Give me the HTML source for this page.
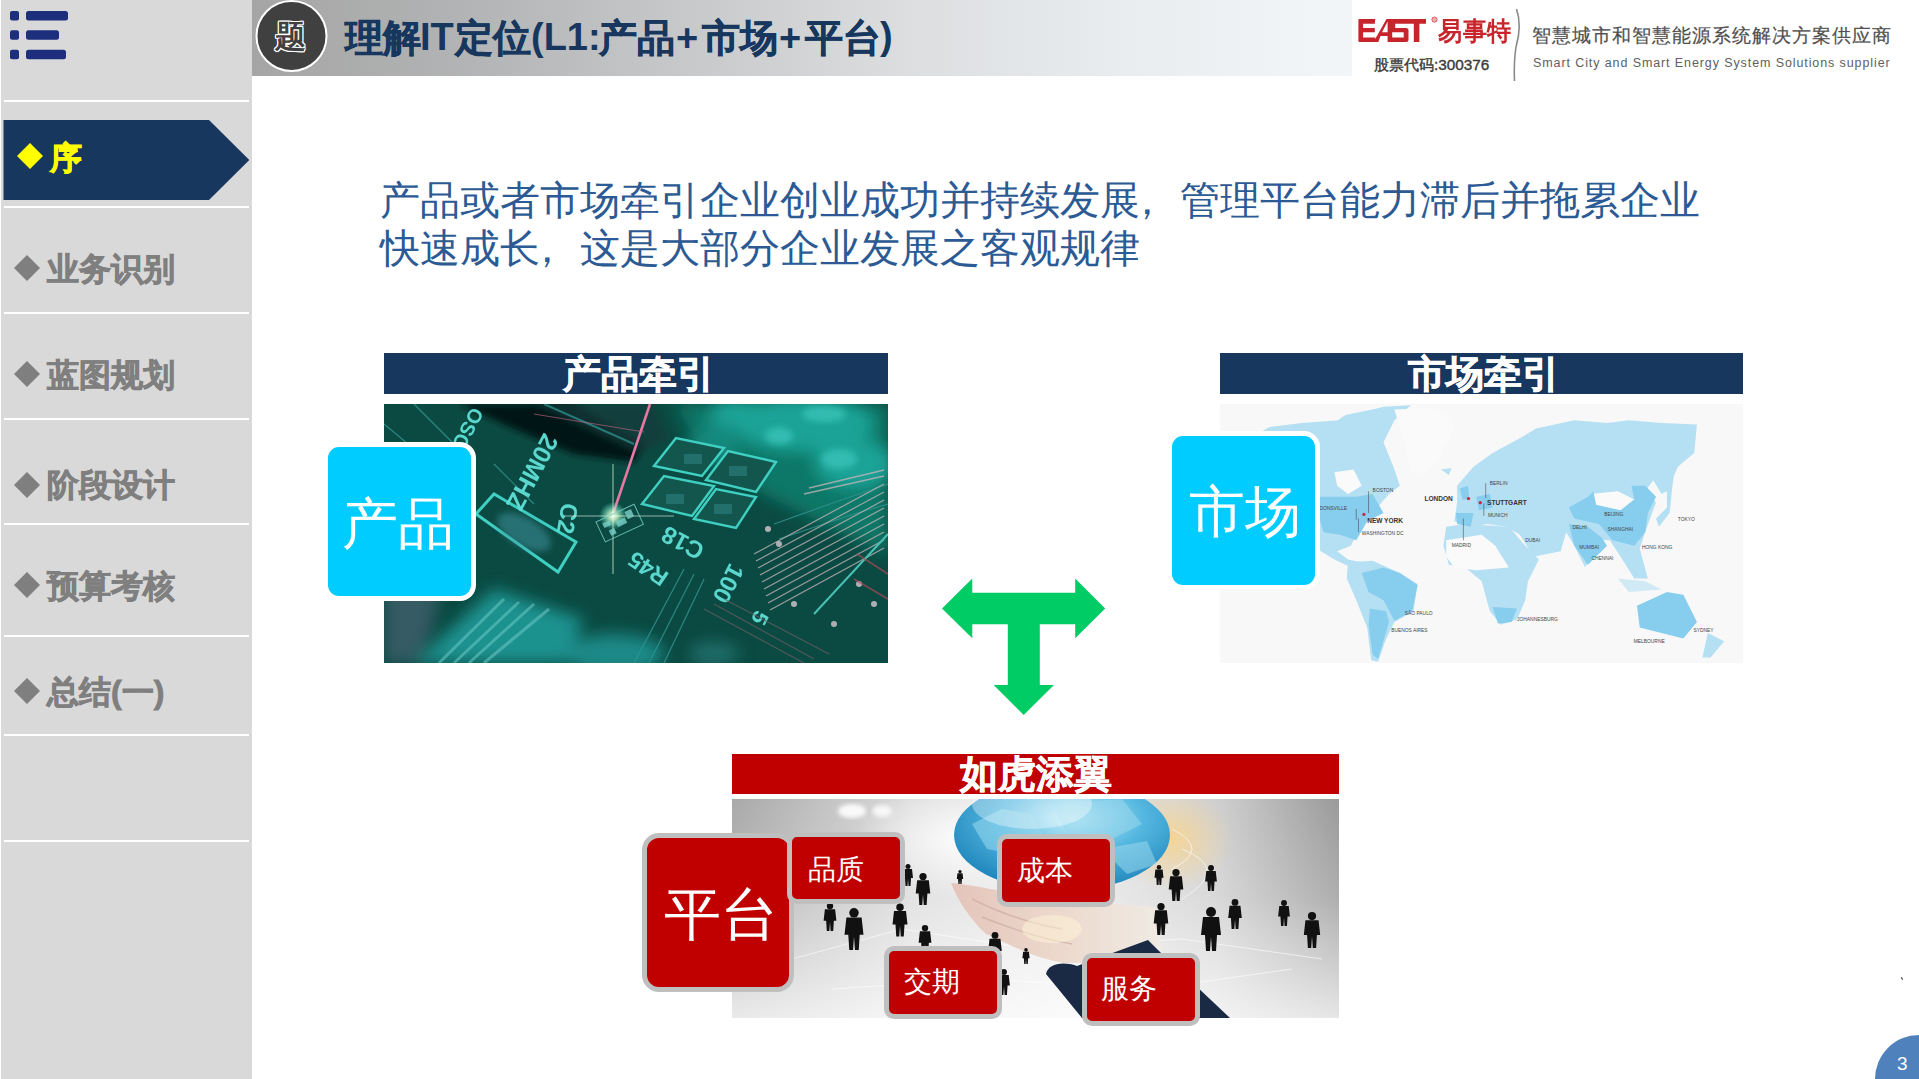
<!DOCTYPE html>
<html><head><meta charset="utf-8">
<style>
*{margin:0;padding:0;box-sizing:border-box}
html,body{width:1919px;height:1079px;overflow:hidden;background:#fff;font-family:"Liberation Sans",sans-serif}
.abs{position:absolute}
#side{left:1px;top:0;width:251px;height:1079px;background:#d9d9d9}
.sep{position:absolute;left:4px;width:245px;height:2px;background:#fff}
.item{position:absolute;left:47px;font-size:32px;font-weight:bold;color:#7f7f7f;white-space:nowrap;line-height:1;-webkit-text-stroke:0.8px #7f7f7f}
.dm{position:absolute;width:26px;height:26px;background:#7f7f7f;clip-path:polygon(50% 0,100% 50%,50% 100%,0 50%)}
.dia{display:inline-block;width:19px;height:19px;background:#7f7f7f;transform:rotate(45deg);vertical-align:middle;margin:0 14px 0 5px;position:relative;top:-3px}
#hdr{left:252px;top:0;width:1100px;height:76px;background:linear-gradient(90deg,#a5a5a5 0%,#b3b4b5 20%,#c8c9cb 40%,#dcdee0 60%,#eaedf0 80%,#f3f6f9 100%)}
.tt,.tl{position:absolute;font-size:38px;font-weight:bold;color:#17375e;white-space:nowrap;line-height:1.2}
.tt{-webkit-text-stroke:0.6px #17375e}
.bar{position:absolute;color:#fff;font-weight:bold;font-size:38px;-webkit-text-stroke:0.6px #fff;text-align:center;line-height:43px;white-space:nowrap}
.cy{position:absolute;background:#00ccff;border:5px solid #fff;border-radius:16px}
.ct{position:absolute;color:#fff;font-size:56px;line-height:1;white-space:nowrap}
.rd{position:absolute;background:#c00000;border:5px solid #bfbfbf;border-radius:10px}
.rt{position:absolute;color:#fff;font-size:28px;line-height:1;white-space:nowrap}
</style></head><body>

<!-- sidebar -->
<div id="side" class="abs"></div>
<svg class="abs" style="left:0;top:0" width="80" height="70">
  <rect x="10" y="11" width="9" height="9.5" rx="2" fill="#1d2e7c"/>
  <rect x="26" y="11" width="42" height="9.5" rx="2.5" fill="#1d2e7c"/>
  <rect x="10" y="30.2" width="9" height="9.5" rx="2" fill="#1d2e7c"/>
  <rect x="26" y="30.2" width="33" height="9.5" rx="2.5" fill="#1d2e7c"/>
  <rect x="10" y="49.8" width="9" height="9.5" rx="2" fill="#1d2e7c"/>
  <rect x="26" y="49.8" width="40" height="9.5" rx="2.5" fill="#1d2e7c"/>
</svg>
<div class="sep" style="top:100px"></div>
<svg class="abs" style="left:0;top:0" width="252" height="220">
  <polygon points="3.5,120 209,120 249.3,160 209,200 3.5,200" fill="#17375e"/>
</svg>
<div class="dm" style="left:17px;top:143px;background:#ffff00"></div>
<div class="item" style="left:50px;top:142px;color:#ffff00;-webkit-text-stroke:0.8px #ffff00">序</div>
<div class="sep" style="top:206px"></div>
<div class="dm" style="left:14px;top:255px"></div>
<div class="item" style="top:253px">业务识别</div>
<div class="sep" style="top:312px"></div>
<div class="dm" style="left:14px;top:361px"></div>
<div class="item" style="top:359px">蓝图规划</div>
<div class="sep" style="top:418px"></div>
<div class="dm" style="left:14px;top:472px"></div>
<div class="item" style="top:469px">阶段设计</div>
<div class="sep" style="top:523px"></div>
<div class="dm" style="left:14px;top:572px"></div>
<div class="item" style="top:570px">预算考核</div>
<div class="sep" style="top:635px"></div>
<div class="dm" style="left:14px;top:678px"></div>
<div class="item" style="top:676px">总结(一)</div>
<div class="sep" style="top:734px"></div>
<div class="sep" style="top:840px"></div>

<!-- header -->
<div id="hdr" class="abs"></div>
<svg class="abs" style="left:252px;top:0" width="80" height="76">
  <circle cx="39.5" cy="36" r="35" fill="#404040" stroke="#fff" stroke-width="2"/>
</svg>
<div class="abs" style="left:275px;top:19.5px;font-size:31px;font-weight:bold;color:#404040;line-height:1.1;text-shadow:1px 0 0 #fff,-1px 0 0 #fff,0 1px 0 #fff,0 -1px 0 #fff,1px 1px 0 #fff,-1px -1px 0 #fff,1px -1px 0 #fff,-1px 1px 0 #fff">题</div>
<div class="tt" style="left:345px;top:15.5px">理解</div>
<div class="tl" style="left:420px;top:15px">IT</div>
<div class="tt" style="left:455px;top:15.5px">定位</div>
<div class="tl" style="left:531px;top:15px">(L1:</div>
<div class="tt" style="left:599px;top:15.5px">产品</div>
<div class="tl" style="left:676px;top:16px">+</div>
<div class="tt" style="left:702px;top:15.5px">市场</div>
<div class="tl" style="left:779px;top:16px">+</div>
<div class="tt" style="left:805px;top:15.5px">平台</div>
<div class="tl" style="left:880px;top:14px">)</div>

<!-- logo -->
<div class="abs" style="left:1352px;top:0;width:567px;height:90px;background:#fff"></div>
<svg class="abs" style="left:1350px;top:10px" width="90" height="40" viewBox="1350 10 90 40">
<g fill="#c8242b">
<path d="M1358.4,20 Q1358.4,19 1359.4,19 L1375.3,19 L1374.8,23.8 L1363.1,23.8 L1363.1,28 L1374.8,28 L1374.8,32.2 L1363.1,32.2 L1363.1,37.4 L1375.3,37.4 L1375.3,42 L1359.4,42 Q1358.4,42 1358.4,41 Z"/>
<path d="M1373.5,42 L1378.3,42 L1380.5,36 L1387.6,36 L1387.6,42 L1392.2,42 L1392.2,19 L1386.5,19 Z M1382,32.2 L1387.6,21.5 L1387.6,32.2 Z"/>
<path d="M1392.5,19 L1426,19 L1426,23.8 L1419.4,23.8 L1419.4,42 L1413.8,42 L1413.8,23.8 L1395.2,23.8 L1395.2,28 L1406,28 Q1408.5,28 1408.5,30.5 L1408.5,39.5 Q1408.5,42 1406,42 L1389.5,42 L1390,37.4 L1403.7,37.4 L1403.7,32.2 L1392.5,32.2 Q1390.2,32.2 1390.2,30 L1390.2,21.3 Q1390.2,19 1392.5,19 Z"/>
</g>
<circle cx="1434.5" cy="19.6" r="2.6" fill="#f0b0b0" stroke="#d04048" stroke-width="0.8"/>
</svg>
<div class="abs" style="left:1438px;top:18px;font-size:24px;font-weight:bold;color:#c8242b;line-height:1;font-family:'Liberation Serif',serif;letter-spacing:0.5px;white-space:nowrap;transform:scaleY(1.08);transform-origin:top">易事特</div>
<div class="abs" style="left:1374px;top:57px;font-size:15.3px;color:#3a3a3a;-webkit-text-stroke:0.4px #3a3a3a;line-height:1;white-space:nowrap">股票代码:300376</div>
<svg class="abs" style="left:1505px;top:5px" width="25" height="80"><path d="M11.5,4 C15,14 15,28 11,42 C9,55 9,65 9.5,76" fill="none" stroke="#8a8a8a" stroke-width="1.6"/></svg>
<div class="abs" style="left:1532px;top:27px;font-size:18.5px;color:#505050;-webkit-text-stroke:0.2px #505050;line-height:1;white-space:nowrap;letter-spacing:1.0px">智慧城市和智慧能源系统解决方案供应商</div>
<div class="abs" style="left:1533px;top:57px;font-size:12.5px;color:#606060;line-height:1;white-space:nowrap;letter-spacing:0.9px">Smart City and Smart Energy System Solutions supplier</div>

<!-- main text -->
<div class="abs" style="left:380px;top:175.5px;font-size:40px;color:#2c5a94;line-height:48px;white-space:nowrap">产品或者市场牵引企业创业成功并持续发展<span style="position:relative;left:-13px">，</span>管理平台能力滞后并拖累企业<br>快速成长<span style="position:relative;left:-13px">，</span>这是大部分企业发展之客观规律</div>

<!-- product -->
<div class="bar" style="left:384px;top:353px;width:504px;height:41px;background:#17375e;padding-left:5px">产品牵引</div>
<svg class="abs" style="left:384px;top:404px" width="504" height="259" viewBox="0 0 504 259">
<defs>
<filter id="b3" x="-20%" y="-20%" width="140%" height="140%"><feGaussianBlur stdDeviation="3"/></filter>
<filter id="b8" x="-50%" y="-50%" width="200%" height="200%"><feGaussianBlur stdDeviation="8"/></filter>
<filter id="b1"><feGaussianBlur stdDeviation="0.7"/></filter>
<radialGradient id="glow"><stop offset="0" stop-color="#fff"/><stop offset="0.3" stop-color="#d8ffd0" stop-opacity="0.8"/><stop offset="1" stop-color="#5fd" stop-opacity="0"/></radialGradient>
</defs>
<rect width="504" height="259" fill="#0b4a42"/>
<g filter="url(#b8)"><polygon points="290,0 504,0 504,150 440,120 380,90 320,50" fill="#0a7868"/></g>
<!-- left darker -->
<polygon points="0,150 60,170 40,259 0,259" fill="#3a5d68" opacity="0.9" filter="url(#b8)"/>
<!-- top-right light blobs -->
<g filter="url(#b8)" fill="#1fa89c" opacity="0.9">
<ellipse cx="420" cy="20" rx="70" ry="28"/>
<ellipse cx="470" cy="60" rx="40" ry="25"/>
<ellipse cx="355" cy="10" rx="30" ry="15"/>
<ellipse cx="330" cy="40" rx="25" ry="18" fill="#168a80"/>
</g>
<g filter="url(#b3)" fill="#3cc8bc" opacity="0.7">
<ellipse cx="440" cy="10" rx="22" ry="8"/><ellipse cx="395" cy="32" rx="14" ry="9"/><ellipse cx="455" cy="55" rx="18" ry="10"/><ellipse cx="360" cy="65" rx="10" ry="7"/>
</g>
<!-- dark band top -->
<polygon points="75,0 190,0 260,40 250,58 190,50 130,25" fill="#061514" filter="url(#b3)"/>
<polygon points="150,0 270,0 285,35 255,50" fill="#133a3a" opacity="0.7" filter="url(#b3)"/>
<line x1="160" y1="0" x2="250" y2="40" stroke="#2b8c88" stroke-width="2" opacity="0.8"/>
<!-- traces -->
<g stroke="#2f8f8a" stroke-width="1.2" fill="none" opacity="0.9">
<path d="M0,20 L60,70 L92,110"/><path d="M30,0 L80,50"/><path d="M110,60 L150,100"/>
<path d="M300,165 L250,259"/><path d="M310,170 L265,259"/><path d="M320,175 L280,259"/>
<path d="M390,120 L460,95 L504,80"/><path d="M395,135 L470,110 L504,100"/>
</g>
<!-- pads grid -->
<g stroke="#3fd0c2" stroke-width="2.4" fill="#12564e">
<path d="M258,100 L280,72 L330,82 L308,112 Z"/>
<path d="M310,115 L332,85 L372,93 L352,124 Z"/>
<path d="M270,62 L292,34 L340,44 L318,72 Z"/>
<path d="M322,76 L344,47 L392,58 L372,88 Z"/>
</g>
<g fill="#2a7a78" opacity="0.7"><rect x="282" y="90" width="18" height="10"/><rect x="330" y="100" width="18" height="10"/><rect x="300" y="50" width="18" height="10"/><rect x="345" y="62" width="18" height="10"/></g>
<!-- left pad component -->
<path d="M92,110 L110,90 L192,138 L174,168 Z" fill="none" stroke="#3fd0c2" stroke-width="3"/>
<ellipse cx="140" cy="128" rx="30" ry="14" fill="#3a8a95" opacity="0.6" filter="url(#b3)" transform="rotate(30 140 128)"/>
<!-- silkscreen text -->
<g fill="#5fe0d6" font-family="Liberation Sans" font-weight="bold" font-size="22" opacity="0.95">
<text transform="translate(160,28) rotate(118)" font-size="25">20MHZ</text>
<text transform="translate(88,2) rotate(118)" font-size="20">OSC2</text>
<text transform="translate(178,98) rotate(100)" font-size="24">C2</text>
<text transform="translate(322,142) rotate(208)" font-size="24">C18</text>
<text transform="translate(286,170) rotate(214)" font-size="23">R45</text>
<text transform="translate(346,158) rotate(117)" font-size="24">100</text>
<text transform="translate(372,205) rotate(117)" font-size="22">5</text>
</g>
<!-- comb lines -->
<g stroke="#c9b6bb" stroke-width="1.4" opacity="0.75">
<line x1="380" y1="185" x2="500" y2="120"/><line x1="378" y1="178" x2="500" y2="112"/><line x1="376" y1="171" x2="500" y2="104"/>
<line x1="374" y1="164" x2="500" y2="96"/><line x1="372" y1="157" x2="500" y2="88"/><line x1="370" y1="150" x2="500" y2="80"/>
<line x1="382" y1="192" x2="500" y2="128"/><line x1="384" y1="199" x2="500" y2="136"/><line x1="386" y1="206" x2="500" y2="144"/>
<line x1="420" y1="90" x2="500" y2="72"/><line x1="425" y1="84" x2="500" y2="66"/>
</g>
<g fill="#d8c8d0" opacity="0.8"><circle cx="395" cy="140" r="3"/><circle cx="384" cy="125" r="3"/><circle cx="410" cy="200" r="3"/><circle cx="450" cy="220" r="3"/><circle cx="490" cy="200" r="3"/><circle cx="475" cy="180" r="3"/></g>
<path d="M430,210 L504,130" stroke="#49c0b5" stroke-width="2"/>
<!-- bottom-left blurry -->
<g filter="url(#b8)">
<polygon points="30,259 110,185 200,215 180,259" fill="#1e9a98" opacity="0.9"/>
<ellipse cx="230" cy="250" rx="50" ry="20" fill="#1e9a98" opacity="0.8"/>
<ellipse cx="330" cy="250" rx="25" ry="12" fill="#277c7b" opacity="0.7"/>
</g>
<g stroke="#6cc8c4" stroke-width="3" opacity="0.55" filter="url(#b1)">
<line x1="55" y1="259" x2="120" y2="195"/><line x1="70" y1="259" x2="135" y2="198"/><line x1="85" y1="259" x2="150" y2="200"/><line x1="100" y1="259" x2="165" y2="205"/>
</g>
<!-- bottom-right dark lines -->
<g stroke="#6b5e64" stroke-width="1.4" opacity="0.7">
<line x1="320" y1="205" x2="420" y2="259"/><line x1="330" y1="200" x2="430" y2="255"/><line x1="340" y1="195" x2="445" y2="250"/>
</g>
<path d="M473,150 L504,170 M470,175 L504,195" stroke="#b04a5a" stroke-width="1.5" opacity="0.7"/>
<!-- pink laser -->
<line x1="266" y1="0" x2="229" y2="110" stroke="#e77aa3" stroke-width="2.6"/>
<line x1="150" y1="10" x2="260" y2="28" stroke="#c86a8a" stroke-width="1.2" opacity="0.6"/>
<!-- glare -->
<circle cx="229" cy="112" r="14" fill="url(#glow)"/>
<line x1="229" y1="60" x2="229" y2="170" stroke="#e8ffe8" stroke-width="1" opacity="0.7"/>
<line x1="180" y1="112" x2="290" y2="112" stroke="#e8ffe8" stroke-width="1" opacity="0.6"/>
<!-- qr code -->
<g transform="translate(212,118) rotate(-25)" fill="#7bd0c8" opacity="0.8"><rect x="0" y="0" width="42" height="22" fill="none" stroke="#7bd0c8" stroke-width="1"/><rect x="5" y="4" width="8" height="5"/><rect x="18" y="8" width="10" height="6"/><rect x="30" y="3" width="7" height="8"/><rect x="8" y="13" width="6" height="6"/></g>
</svg>
<div class="cy" style="left:322.8px;top:441.5px;width:153px;height:159.5px"></div>
<div class="ct" style="left:342px;top:495.5px">产品</div>

<!-- market -->
<div class="bar" style="left:1220px;top:353px;width:523px;height:41px;background:#17375e;padding-left:5px">市场牵引</div>
<svg class="abs" style="left:1220px;top:404px" width="523" height="259" viewBox="0 0 1919 950" preserveAspectRatio="none">
<rect width="1919" height="950" fill="#f8f8f8"/>
<g fill="#b5e0f4">
<!-- North America -->
<path d="M180,85 L300,70 L440,60 L520,30 L600,10 L700,5 L640,60 L600,140 L640,240 L660,300 L620,330 L560,400 L520,440 L480,520 L430,540 L470,570 L520,580 L480,600 L420,570 L370,540 L340,520 L300,470 L260,400 L200,300 L150,200 L120,120 Z"/>
<!-- arctic islands -->
<path d="M390,90 L460,40 L560,20 L600,60 L520,120 L440,130 Z"/>
<!-- South America -->
<path d="M470,580 L560,575 L660,620 L725,660 L710,760 L640,800 L610,860 L580,945 L555,940 L540,820 L500,720 L465,640 Z"/>
<!-- Europe + Asia -->
<path d="M870,300 L930,230 L1000,180 L1110,120 L1160,90 L1300,60 L1420,70 L1500,60 L1620,70 L1750,75 L1740,180 L1680,230 L1640,320 L1620,330 L1590,280 L1560,320 L1600,360 L1560,470 L1540,530 L1570,640 L1520,640 L1470,560 L1430,500 L1390,500 L1340,600 L1300,520 L1270,470 L1250,540 L1150,560 L1100,480 L1050,450 L980,440 L920,450 L860,430 L870,360 Z"/>
<!-- Africa -->
<path d="M830,450 L900,440 L1060,450 L1120,520 L1170,570 L1130,650 L1120,720 L1090,790 L1030,810 L990,760 L960,650 L900,600 L840,590 L820,520 Z"/>
<!-- Japan -->
<path d="M1640,250 L1670,230 L1660,300 L1650,400 L1610,450 L1600,420 L1640,380 Z"/>
<!-- Indonesia -->
<path d="M1460,640 L1560,650 L1620,680 L1500,690 Z" opacity="0.6"/>
<!-- Iceland / UK -->
<path d="M810,240 L850,235 L840,260 Z"/>
</g>
<!-- white areas -->
<g fill="#fafafa">
<path d="M640,20 L760,15 L850,40 L860,90 L790,220 L740,270 L700,250 L680,150 Z"/>
<path d="M830,500 L960,480 L1010,520 L1060,600 L940,610 L860,600 L830,560 Z"/>
<path d="M1360,330 L1460,320 L1520,350 L1470,390 L1380,380 Z"/>
<path d="M420,250 L490,240 L520,300 L470,330 L430,300 Z"/>
</g>
<g fill="#87cdee">
<!-- USA -->
<path d="M365,340 L500,340 L560,330 L600,400 L540,430 L500,500 L440,480 L380,470 L365,420 Z"/>
<!-- Brazil -->
<path d="M520,620 L600,600 L660,620 L725,665 L705,760 L640,795 L600,720 L545,690 Z"/>
<!-- Argentina -->
<path d="M550,750 L610,760 L620,800 L580,935 L560,920 L545,810 Z"/>
<!-- China -->
<path d="M1280,380 L1350,340 L1370,320 L1380,370 L1470,390 L1520,350 L1510,300 L1560,300 L1600,340 L1570,400 L1560,470 L1520,520 L1440,500 L1390,440 L1300,420 Z"/>
<!-- India -->
<path d="M1280,440 L1350,450 L1400,490 L1420,520 L1350,590 L1300,520 Z"/>
<!-- Australia -->
<path d="M1530,740 L1640,690 L1700,700 L1750,800 L1700,860 L1620,840 L1540,820 Z"/>
<!-- South Africa -->
<path d="M1000,745 L1090,750 L1070,800 L1020,805 Z"/>
<!-- Spain/UK/Germany -->
<path d="M865,400 L930,400 L920,450 L870,440 Z"/>
<path d="M940,340 L990,330 L1000,380 L950,390 Z"/>
<path d="M880,310 L910,300 L915,350 L890,350 Z"/>
</g>
<path d="M1790,840 L1850,870 L1800,930 L1770,930 Z" fill="#b5e0f4"/>
<!-- city markers and labels -->
<g fill="#c8284a"><circle cx="528" cy="405" r="6"/><circle cx="912" cy="347" r="6"/><circle cx="955" cy="362" r="6"/></g>
<g stroke="#444" stroke-width="2"><line x1="545" y1="320" x2="545" y2="400"/><line x1="500" y1="385" x2="500" y2="425"/><line x1="508" y1="420" x2="508" y2="470"/><line x1="975" y1="290" x2="975" y2="345"/><line x1="968" y1="365" x2="968" y2="410"/><line x1="893" y1="420" x2="893" y2="500"/></g>
<g font-family="Liberation Sans" font-weight="bold" fill="#333" font-size="24">
<text x="540" y="437">NEW YORK</text><text x="750" y="357">LONDON</text><text x="980" y="370">STUTTGART</text>
</g>
<g font-family="Liberation Sans" fill="#444" font-size="18">
<text x="560" y="323">BOSTON</text><text x="365" y="390">DONSVILLE</text><text x="520" y="482">WASHINGTON DC</text><text x="990" y="296">BERLIN</text><text x="983" y="415">MUNICH</text><text x="850" y="525">MADRID</text><text x="1120" y="508">DUBAI</text><text x="1293" y="458">DELHI</text><text x="1410" y="410">BEIJING</text><text x="1422" y="465">SHANGHAI</text><text x="1318" y="533">MUMBAI</text><text x="1363" y="572">CHENNAI</text><text x="1548" y="533">HONG KONG</text><text x="1680" y="428">TOKYO</text><text x="678" y="775">SÃO PAULO</text><text x="628" y="838">BUENOS AIRES</text><text x="1090" y="797">JOHANNESBURG</text><text x="1737" y="837">SYDNEY</text><text x="1518" y="878">MELBOURNE</text>
</g>
</svg>
<div class="cy" style="left:1166.8px;top:430.5px;width:153px;height:159px"></div>
<div class="ct" style="left:1189px;top:483.5px">市场</div>

<!-- arrow -->
<svg class="abs" style="left:0;top:0" width="1200" height="730">
  <polygon points="942,608.5 972.3,578.6 972.3,592.8 1075.2,592.8 1075.2,578.6 1105.2,608.5 1075.2,638.3 1075.2,624.3 1039.8,624.3 1039.8,685 1054,685 1023.7,715 993.6,685 1007.8,685 1007.8,624.3 972.3,624.3 972.3,638.3" fill="#00cc66"/>
</svg>

<!-- platform -->
<div class="bar" style="left:732px;top:754px;width:607px;height:40px;background:#c00000;line-height:40px">如虎添翼</div>
<svg class="abs" style="left:732px;top:799px" width="607" height="219" viewBox="0 0 607 219">
<defs>
<linearGradient id="pbg" x1="0" x2="1" y1="0" y2="0"><stop offset="0" stop-color="#a9a9a9"/><stop offset="0.3" stop-color="#dcdcdc"/><stop offset="0.55" stop-color="#ececec"/><stop offset="0.8" stop-color="#cfcfcf"/><stop offset="1" stop-color="#9a9a9a"/></linearGradient>
<linearGradient id="pbv" x1="0" x2="0" y1="0" y2="1"><stop offset="0" stop-color="#fff" stop-opacity="0"/><stop offset="0.45" stop-color="#fff" stop-opacity="0.2"/><stop offset="1" stop-color="#fff" stop-opacity="0.75"/></linearGradient>
<radialGradient id="globe" cx="0.55" cy="0.35" r="0.65"><stop offset="0" stop-color="#c8f0fa"/><stop offset="0.5" stop-color="#55b8e0"/><stop offset="1" stop-color="#1f86bc"/></radialGradient>
<radialGradient id="gl2"><stop offset="0" stop-color="#fff" stop-opacity="0.95"/><stop offset="1" stop-color="#fff" stop-opacity="0"/></radialGradient>
<radialGradient id="gl3"><stop offset="0" stop-color="#ffd27a" stop-opacity="0.7"/><stop offset="1" stop-color="#ffd27a" stop-opacity="0"/></radialGradient>
<filter id="pb2"><feGaussianBlur stdDeviation="2"/></filter>
</defs>
<rect width="607" height="219" fill="url(#pbg)"/>
<rect width="607" height="219" fill="url(#pbv)"/>
<ellipse cx="240" cy="40" rx="120" ry="60" fill="url(#gl2)"/>
<ellipse cx="440" cy="40" rx="60" ry="50" fill="url(#gl3)"/>
<ellipse cx="120" cy="12" rx="14" ry="7" fill="#fff" opacity="0.9" filter="url(#pb2)"/>
<ellipse cx="150" cy="12" rx="10" ry="6" fill="#fff" opacity="0.8" filter="url(#pb2)"/>
<g stroke="#fff" stroke-width="1" fill="none" opacity="0.6">
<path d="M60,160 L170,130 L300,150 L450,140 L590,160"/><path d="M100,190 L250,180 L420,190 L560,170"/><path d="M440,30 Q480,50 440,70"/><path d="M450,50 Q500,70 450,100"/>
</g>
<!-- globe -->
<ellipse cx="330" cy="36" rx="108" ry="56" fill="url(#globe)"/>
<g fill="#9ad8ee" opacity="0.55">
<path d="M240,25 L270,10 L300,15 L310,35 L280,55 L255,50 Z"/><path d="M320,5 L390,0 L410,25 L370,45 L335,35 Z"/><path d="M295,60 L325,62 L318,85 L298,80 Z"/><path d="M370,50 L415,42 L425,65 L395,75 Z"/>
</g>
<ellipse cx="300" cy="5" rx="60" ry="25" fill="#fff" opacity="0.35"/>
<!-- hand -->
<defs><linearGradient id="hg" x1="0" x2="1"><stop offset="0" stop-color="#e4c4ba"/><stop offset="0.5" stop-color="#ecd8cc"/><stop offset="1" stop-color="#f0ebe4"/></linearGradient></defs>
<path d="M219,84 C240,86 270,92 300,98 C340,104 390,105 424,108 L430,150 C400,156 360,165 334,164 C300,160 272,142 254,135 C238,120 225,100 219,84 Z" fill="url(#hg)"/>
<g stroke="#c9a89a" stroke-width="1.5" fill="none" opacity="0.6"><path d="M240,100 C270,115 300,125 330,130"/><path d="M250,118 C280,130 310,140 340,145"/></g>
<ellipse cx="320" cy="130" rx="30" ry="14" fill="#fff6d8" opacity="0.5"/>
<!-- sleeve -->
<path d="M314,175 C316,165 330,162 345,167 L416,141 L427,152 L498,219 L350,219 Z" fill="#1b2a44"/>

<g fill="#111"><g transform="translate(176,76) scale(0.50)"><circle cx="0" cy="-17" r="5"/><path d="M-8,-12 L8,-12 L10,6 L6,6 L5,22 L1,22 L0,8 L-1,22 L-5,22 L-6,6 L-10,6 Z"/></g><g transform="translate(191,90) scale(0.73)"><circle cx="0" cy="-17" r="5"/><path d="M-8,-12 L8,-12 L10,6 L6,6 L5,22 L1,22 L0,8 L-1,22 L-5,22 L-6,6 L-10,6 Z"/></g><g transform="translate(228,78) scale(0.32)"><circle cx="0" cy="-17" r="5"/><path d="M-8,-12 L8,-12 L10,6 L6,6 L5,22 L1,22 L0,8 L-1,22 L-5,22 L-6,6 L-10,6 Z"/></g><g transform="translate(98,118) scale(0.64)"><circle cx="0" cy="-17" r="5"/><path d="M-8,-12 L8,-12 L10,6 L6,6 L5,22 L1,22 L0,8 L-1,22 L-5,22 L-6,6 L-10,6 Z"/></g><g transform="translate(122,130) scale(0.95)"><circle cx="0" cy="-17" r="5"/><path d="M-8,-12 L8,-12 L10,6 L6,6 L5,22 L1,22 L0,8 L-1,22 L-5,22 L-6,6 L-10,6 Z"/></g><g transform="translate(168,121) scale(0.75)"><circle cx="0" cy="-17" r="5"/><path d="M-8,-12 L8,-12 L10,6 L6,6 L5,22 L1,22 L0,8 L-1,22 L-5,22 L-6,6 L-10,6 Z"/></g><g transform="translate(193,140) scale(0.64)"><circle cx="0" cy="-17" r="5"/><path d="M-8,-12 L8,-12 L10,6 L6,6 L5,22 L1,22 L0,8 L-1,22 L-5,22 L-6,6 L-10,6 Z"/></g><g transform="translate(263,148) scale(0.68)"><circle cx="0" cy="-17" r="5"/><path d="M-8,-12 L8,-12 L10,6 L6,6 L5,22 L1,22 L0,8 L-1,22 L-5,22 L-6,6 L-10,6 Z"/></g><g transform="translate(294,157) scale(0.36)"><circle cx="0" cy="-17" r="5"/><path d="M-8,-12 L8,-12 L10,6 L6,6 L5,22 L1,22 L0,8 L-1,22 L-5,22 L-6,6 L-10,6 Z"/></g><g transform="translate(427,76) scale(0.45)"><circle cx="0" cy="-17" r="5"/><path d="M-8,-12 L8,-12 L10,6 L6,6 L5,22 L1,22 L0,8 L-1,22 L-5,22 L-6,6 L-10,6 Z"/></g><g transform="translate(444,86) scale(0.73)"><circle cx="0" cy="-17" r="5"/><path d="M-8,-12 L8,-12 L10,6 L6,6 L5,22 L1,22 L0,8 L-1,22 L-5,22 L-6,6 L-10,6 Z"/></g><g transform="translate(479,79) scale(0.59)"><circle cx="0" cy="-17" r="5"/><path d="M-8,-12 L8,-12 L10,6 L6,6 L5,22 L1,22 L0,8 L-1,22 L-5,22 L-6,6 L-10,6 Z"/></g><g transform="translate(429,120) scale(0.73)"><circle cx="0" cy="-17" r="5"/><path d="M-8,-12 L8,-12 L10,6 L6,6 L5,22 L1,22 L0,8 L-1,22 L-5,22 L-6,6 L-10,6 Z"/></g><g transform="translate(479,130) scale(1.00)"><circle cx="0" cy="-17" r="5"/><path d="M-8,-12 L8,-12 L10,6 L6,6 L5,22 L1,22 L0,8 L-1,22 L-5,22 L-6,6 L-10,6 Z"/></g><g transform="translate(503,115) scale(0.68)"><circle cx="0" cy="-17" r="5"/><path d="M-8,-12 L8,-12 L10,6 L6,6 L5,22 L1,22 L0,8 L-1,22 L-5,22 L-6,6 L-10,6 Z"/></g><g transform="translate(552,114) scale(0.59)"><circle cx="0" cy="-17" r="5"/><path d="M-8,-12 L8,-12 L10,6 L6,6 L5,22 L1,22 L0,8 L-1,22 L-5,22 L-6,6 L-10,6 Z"/></g><g transform="translate(580,131) scale(0.82)"><circle cx="0" cy="-17" r="5"/><path d="M-8,-12 L8,-12 L10,6 L6,6 L5,22 L1,22 L0,8 L-1,22 L-5,22 L-6,6 L-10,6 Z"/></g><g transform="translate(272,183) scale(0.59)"><circle cx="0" cy="-17" r="5"/><path d="M-8,-12 L8,-12 L10,6 L6,6 L5,22 L1,22 L0,8 L-1,22 L-5,22 L-6,6 L-10,6 Z"/></g></g>
</svg>
<div class="rd" style="left:642px;top:833px;width:152px;height:159px;border-radius:17px"></div>
<div class="rd" style="left:787px;top:832px;width:118px;height:72px"></div>
<div class="rd" style="left:997px;top:833.5px;width:118px;height:73px"></div>
<div class="rd" style="left:883.5px;top:945.5px;width:118.5px;height:73px"></div>
<div class="rd" style="left:1082px;top:952.5px;width:118px;height:73px"></div>
<div class="rt" style="left:664px;top:886px;font-size:57px">平台</div>
<div class="rt" style="left:808px;top:855.5px">品质</div>
<div class="rt" style="left:1017px;top:856.5px">成本</div>
<div class="rt" style="left:904px;top:967.5px">交期</div>
<div class="rt" style="left:1101px;top:974.5px">服务</div>

<!-- page number -->
<svg class="abs" style="left:1870px;top:1030px" width="49" height="49">
  <circle cx="49" cy="49" r="44" fill="#4f81bd"/>
</svg>
<div class="abs" style="left:1897px;top:1053px;font-size:19px;color:#fff;line-height:1.15">3</div>
<svg class="abs" style="left:1898px;top:974px" width="8" height="8"><line x1="3.3" y1="3.3" x2="4.6" y2="5.6" stroke="#444" stroke-width="1.2"/></svg>
</body></html>
